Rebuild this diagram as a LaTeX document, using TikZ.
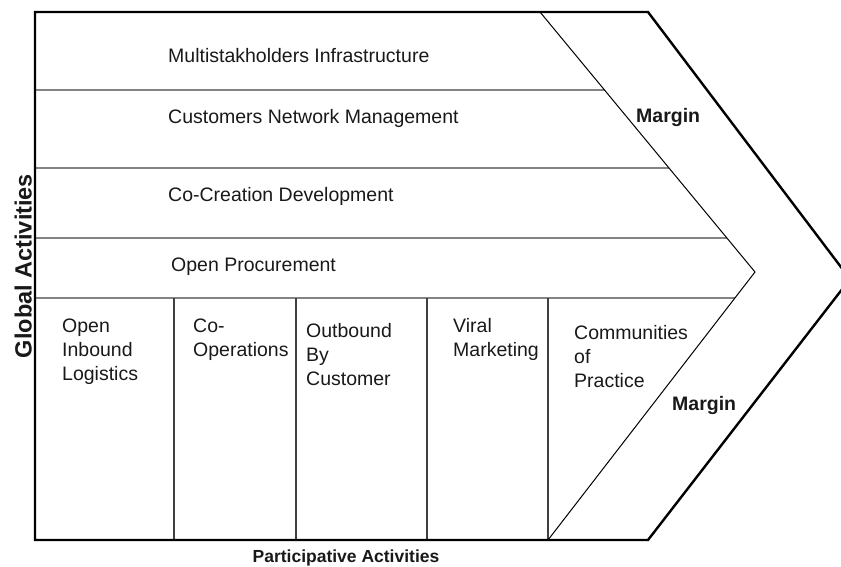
\documentclass[tikz,border=0pt]{standalone}
\usepackage{fontspec}
\setmainfont{Liberation Sans}
\usetikzlibrary{calc}

\begin{document}
\begin{tikzpicture}[x=1pt, y=-1pt,
    every node/.style={inner sep=0pt, align=left, text=black!90,
        font=\fontsize{19.5}{24}\selectfont},
    outer/.style={line width=2.4pt, line join=miter},
    inner/.style={line width=1pt},
    divider/.style={line width=1.1pt, draw=black!75},
    heavy/.style={font=\fontsize{19.5}{24}\selectfont\bfseries}]
\useasboundingbox (0,0) rectangle (841,567);

            % chevron corners
            \coordinate (O1) at (35,12);
            \coordinate (O2) at (648,12);
            \coordinate (O3) at (850,279);
            \coordinate (O4) at (648,540);
            \coordinate (O5) at (35,540);
            \coordinate (I1) at (540,12);
            \coordinate (I2) at (755,272);
            \coordinate (I3) at (548,540);

            % global activity rows
            \foreach \y [count=\i] in {90,168,238} {
                \coordinate (L\i) at (35,\y);
                \coordinate (R\i) at ($(I1)!{(\y-12)/260}!(I2)$);
                \draw [divider] (L\i) -- (R\i);
            }
            \coordinate (L4) at (35,298);
            \coordinate (R4) at ($(I2)!{(298-272)/268}!(I3)$);
            \draw [divider] (L4) -- (R4);

            % participative activity columns
            \foreach \x [count=\j] in {174,296,427,548} {
                \coordinate (T\j) at (\x,298);
                \coordinate (B\j) at (\x,540);
                \draw [divider] (T\j) -- (B\j);
            }

            \draw [inner] (I1) -- (I2) -- (I3);
            \draw [outer] (O1) -- (O2) -- (O3) -- (O4) -- (O5) -- cycle;

            \node [anchor=base west] (infra) at (168,63) {Multistakholders Infrastructure};
            \node [anchor=base west] (network) at (168,124) {Customers Network Management};
            \node [anchor=base west] (cocreation) at (168,201) {Co-Creation Development};
            \node [anchor=base west] (procure) at (171,271) {Open Procurement};

            \node [anchor=north west] (inbound) at (62,318.5) {Open\\Inbound\\Logistics};
            \node [anchor=north west] (coop) at (193,318.5) {Co-\\Operations};
            \node [anchor=north west] (outbound) at (306,323.5) {Outbound\\By\\Customer};
            \node [anchor=north west] (viral) at (453,318.5) {Viral\\Marketing};
            \node [anchor=north west] (practice) at (574,325.5) {Communities\\of\\Practice};

            \node [heavy, anchor=base west] (marginA) at (636,123) {Margin};
            \node [heavy, anchor=base west] (marginB) at (672,410) {Margin};

            \node [anchor=base, font=\fontsize{23.5}{28}\selectfont\bfseries, rotate=90] (global) at (31.5,266) {Global Activities};
            \node [anchor=base, font=\fontsize{17.5}{21}\selectfont\bfseries] (particip) at (346,562) {Participative Activities};

        \end{tikzpicture}
\end{document}
